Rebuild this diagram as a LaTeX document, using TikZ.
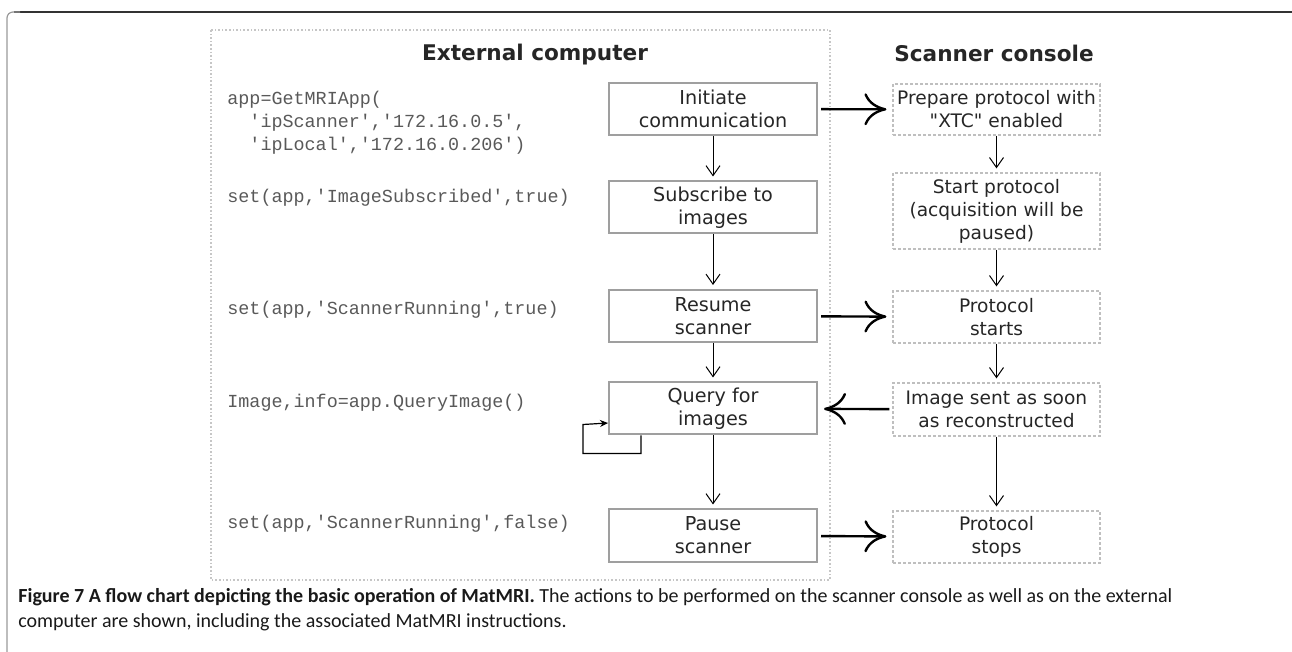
\documentclass[tikz,border=0pt]{standalone}
\usepackage{fontspec}
\setmainfont{DejaVu Sans}
\setmonofont{Liberation Mono}
\newfontfamily\capfont{Carlito}
\usetikzlibrary{arrows.meta,positioning}

\tikzset{
  stepbox/.style={draw=gray!75, line width=1pt, minimum width=104pt, minimum height=26pt,
    align=center, inner sep=1pt, text=black!85, font=\fontsize{9.6}{11.5}\selectfont},
  consolebox/.style={draw=gray!50, dash pattern=on 1.5pt off 1pt, line width=0.6pt,
    minimum width=103.5pt, align=center, inner sep=1pt, text=black!85,
    font=\fontsize{9.3}{11.5}\selectfont},
  codeline/.style={anchor=west, align=left, inner sep=0pt, text=black!65,
    font=\ttfamily\fontsize{9.2}{11.5}\selectfont},
  heading/.style={text=black!85, font=\bfseries\fontsize{10.8}{13}\selectfont},
  flow/.style={-{Straight Barb[length=5pt,width=7pt]}, line width=0.5pt, shorten >=2pt},
  cross/.style={-{Computer Modern Rightarrow[length=11pt,width=16pt]}, line width=1.2pt,
    shorten <=1.5pt, shorten >=3pt},
  again/.style={-{Stealth[length=4pt,width=3.5pt]}, line width=0.6pt}
}

\begin{document}
\begin{tikzpicture}[x=0.5pt,y=-0.5pt]
  \useasboundingbox (0,0) rectangle (1292,652);

  % frame and panel
  \draw[black!80, line width=0.6pt] (14,12) -- (1292,12);
  \draw[gray!80, line width=0.6pt, rounded corners=3pt] (20,12) -- (7,12) -- (7,652);
  \draw[gray!45, densely dotted, line width=0.8pt] (211,30) rectangle (830,580);

  \node[heading] (ext)  at (535,55) {External computer};
  \node[heading] (scan) at (994,53) {Scanner console};

  % external computer
  \node[stepbox] (init)   at (713,109)   {Initiate\\communication};
  \node[stepbox] (sub)    at (713,207.5) {Subscribe to\\images};
  \node[stepbox] (resume) at (713,316)   {Resume\\scanner};
  \node[stepbox] (query)  at (713,408.5) {Query for\\images};
  \node[stepbox] (pause)  at (713,535.5) {Pause\\scanner};

  % scanner console
  \node[consolebox, minimum height=25.5pt] (prep)   at (996.5,109.5) {Prepare protocol with\\\textquotedbl XTC\textquotedbl\ enabled};
  \node[consolebox, minimum height=38pt]   (start)  at (996.5,211)   {Start protocol\\(acquisition will be\\paused)};
  \node[consolebox, minimum height=26pt]   (starts) at (996.5,317)   {Protocol\\starts};
  \node[consolebox, minimum height=26.5pt] (sent)   at (996.5,409.5) {Image sent as soon\\as reconstructed};
  \node[consolebox, minimum height=26pt]   (stops)  at (996.5,537)   {Protocol\\stops};

  % MatMRI calls
  \node[codeline] (getapp) at (227,123) {app=GetMRIApp(\\\ \ 'ipScanner','172.16.0.5',\\\ \ 'ipLocal','172.16.0.206')};
  \node[codeline] (subcmd)   at (227,198) {set(app,'ImageSubscribed',true)};
  \node[codeline] (runcmd)   at (227,310) {set(app,'ScannerRunning',true)};
  \node[codeline] (querycmd) at (227,403) {Image,info=app.QueryImage()};
  \node[codeline] (stopcmd)  at (227,524) {set(app,'ScannerRunning',false)};

  \draw[flow] (init) -- (sub);
  \draw[flow] (sub) -- (resume);
  \draw[flow] (resume) -- (query);
  \draw[flow] (query) -- (pause);
  \draw[flow] (prep) -- (start);
  \draw[flow] (start) -- (starts);
  \draw[flow] (starts) -- (sent);
  \draw[flow] (sent) -- (stops);

  \draw[cross] (init) -- (prep);
  \draw[cross] (resume) -- (starts);
  \draw[cross] (sent) -- (query);
  \draw[cross] (pause) -- (stops);

  \draw[again] ([xshift=16.5pt]query.south west) -- ++(0,18) -| ++(-58,-29)
    -- ([yshift=-7.25pt]query.west);

  \node[anchor=north west, align=left, inner sep=0pt, text=black!90,
    font=\capfont\fontsize{10}{12.5}\selectfont] (caption) at (18,588)
    {\textbf{Figure 7 A flow chart depicting the basic operation of MatMRI.} The actions to be performed on the scanner console as well as on the external\\
     computer are shown, including the associated MatMRI instructions.};
\end{tikzpicture}
\end{document}
